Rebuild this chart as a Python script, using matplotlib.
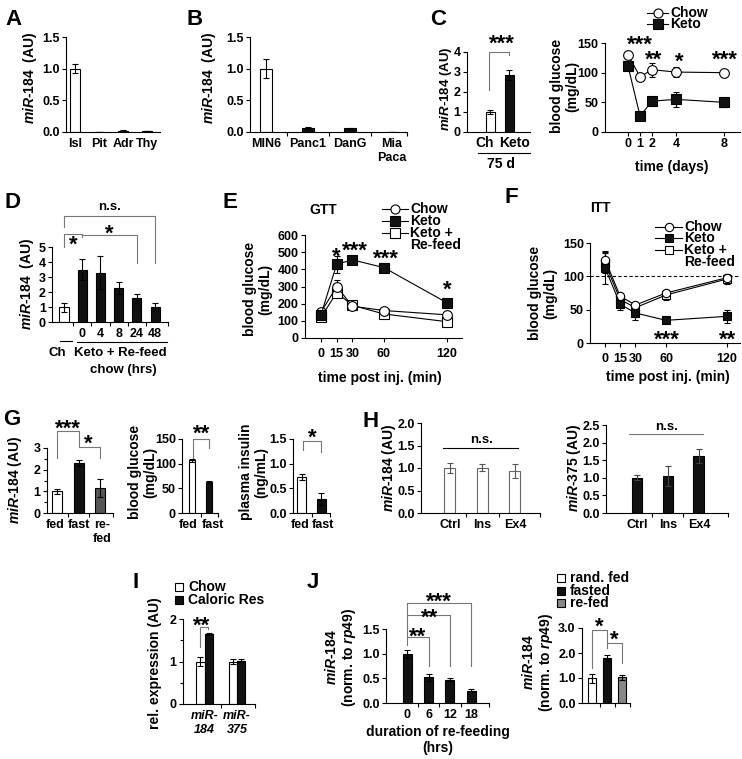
import matplotlib
matplotlib.use("Agg")
import matplotlib.pyplot as plt
from matplotlib.patches import Rectangle

plt.rcParams["font.family"] = "Liberation Sans"
plt.rcParams["font.weight"] = "bold"
plt.rcParams["font.size"] = 9
plt.rcParams["axes.linewidth"] = 0.8
plt.rcParams["mathtext.fontset"] = "custom"
plt.rcParams["mathtext.it"] = "Liberation Sans:italic:bold"
plt.rcParams["mathtext.rm"] = "Liberation Sans:bold"
plt.rcParams["mathtext.bf"] = "Liberation Sans:bold"

W, H = 742, 759

# A: tissues
tissue = ["Isl", "Pit", "Adr", "Thy"]
tissue_mir = [1.0, 0.0, 0.02, 0.015]
tissue_err = [0.07, 0.0, 0.01, 0.005]
# B: cell lines
cells = ["MIN6", "Panc1", "DanG", "Mia\nPaca"]
cells_mir = [1.0, 0.06, 0.06, 0.0]
cells_err = [0.15, 0.02, 0.01, 0.0]
# C: keto diet
diet_mir = [1.0, 2.85]
diet_err = [0.1, 0.25]
days = [0, 1, 2, 4, 8]
chow_bg = [130, 93, 105, 101, 100]
chow_bg_err = [5, 5, 12, 8, 4]
keto_bg = [111, 27, 52, 55, 50]
keto_bg_err = [5, 3, 4, 13, 8]
# D: re-feeding
refeed_hrs = ["", "0", "4", "8", "24", "48"]
refeed_mir = [1.0, 3.5, 3.3, 2.25, 1.6, 1.0]
refeed_err = [0.3, 0.7, 1.1, 0.4, 0.3, 0.25]
# E: GTT
tt_min = [0, 15, 30, 60, 120]
gtt_chow = [150, 300, 185, 160, 135]
gtt_chow_err = [10, 35, 15, 12, 12]
gtt_keto = [135, 430, 455, 410, 205]
gtt_keto_err = [10, 50, 15, 25, 25]
gtt_refeed = [120, 265, 190, 140, 95]
gtt_refeed_err = [10, 25, 10, 8, 8]
# F: ITT
itt_chow = [125, 70, 57, 75, 98]
itt_chow_err = [12, 5, 5, 5, 4]
itt_keto = [113, 58, 45, 34, 40]
itt_keto_err = [25, 8, 10, 2, 10]
itt_refeed = [120, 65, 53, 72, 96]
itt_refeed_err = [15, 5, 5, 8, 8]
# G: fasting
fast_lbl = ["fed", "fast", "re-\nfed"]
fast_mir = [1.0, 2.3, 1.15]
fast_mir_err = [0.1, 0.15, 0.4]
fast_bg = [107, 62]
fast_bg_err = [3, 2]
fast_ins = [0.73, 0.28]
fast_ins_err = [0.07, 0.12]
# H: treatments
treat = ["Ctrl", "Ins", "Ex4"]
treat_184 = [1.0, 1.01, 0.93]
treat_184_err = [0.12, 0.08, 0.15]
treat_375 = [1.0, 1.05, 1.62]
treat_375_err = [0.07, 0.28, 0.2]
# I: caloric restriction
mirs = ["miR-\n184", "miR-\n375"]
cr_chow = [1.0, 1.0]
cr_chow_err = [0.1, 0.05]
cr_res = [1.65, 1.02]
cr_res_err = [0.02, 0.04]
# J: fly re-feeding
fly_hrs = ["0", "6", "12", "18"]
fly_mir = [1.0, 0.52, 0.47, 0.25]
fly_err = [0.08, 0.07, 0.03, 0.03]
fly_state_mir = [1.0, 1.8, 1.03]
fly_state_err = [0.18, 0.13, 0.1]

BLK = "#111111"
GRY = "#777777"

fig = plt.figure(figsize=(W / 100, H / 100), dpi=100)
ov = fig.add_axes([0, 0, 1, 1])
ov.set_xlim(0, W)
ov.set_ylim(H, 0)
ov.axis("off")


def axpx(l, t, r, b, xlim, ylim):
    ax = fig.add_axes([l / W, 1 - b / H, (r - l) / W, (b - t) / H])
    ax.spines[["top", "right"]].set_visible(False)
    ax.patch.set_alpha(0)
    ax.set_xlim(*xlim)
    ax.set_ylim(*ylim)
    ax.tick_params(direction="out", length=3, width=0.8, pad=1.5, labelsize=9)
    return ax


def bars(ax, pos, vals, errs, colors, width, edge="black", ecol="black"):
    ax.bar(pos, vals, width, color=colors, edgecolor=edge, linewidth=0.8, zorder=2)
    ax.errorbar(pos, vals, yerr=errs, fmt="none", ecolor=ecol, elinewidth=0.8,
                capsize=2, capthick=0.8, zorder=3)


def cat_ticks(ax, labels, style="normal", majors=True, shift=None):
    n = len(labels)
    right = ax.get_xlim()[1]
    if majors:
        ax.set_xticks([i + 0.5 for i in range(n - 1)] + [right], labels=[""] * n)
    else:
        ax.set_xticks([])
    pos = [i + (shift[i] if shift else 0) for i in range(n)]
    ax.set_xticks(pos, labels=labels, minor=True, fontstyle=style)
    ax.tick_params(axis="x", which="minor", length=0, pad=4.5, labelsize=9)


def bracket(ax, x0, x1, y, y0, y1, color=GRY):
    ax.plot([x0, x0, x1, x1], [y0, y, y, y1], color=color, lw=0.8, clip_on=False)


def stars(ax, x, y, s, fs=16):
    ax.annotate(s, (x, y), xytext=(0, -5), textcoords="offset points",
                ha="center", va="center", fontsize=fs, annotation_clip=False)


def ns(ax, x, y):
    ax.text(x, y, "n.s.", ha="center", va="center", fontsize=9.5, clip_on=False)


def T(x, y, s, **kw):
    kw.setdefault("ha", "center")
    kw.setdefault("va", "center")
    kw.setdefault("fontsize", 10)
    ov.text(x, y, s, **kw)


def ylab(x, y, s, fs=10):
    T(x, y, s, rotation=90, multialignment="center", fontsize=fs, linespacing=1.1)


def line_key(x0, x1, y, marker, face, label, ms=6.5):
    ov.plot([x0, x1], [y, y], color="black", lw=0.8)
    ov.plot([(x0 + x1) / 2], [y], marker=marker, mfc=face, mec="black", ms=ms, mew=0.8)
    T(x1 + 2, y, label, ha="left", fontsize=10)


def box_key(x, y, face, label):
    ov.add_patch(Rectangle((x - 4, y - 4), 8, 8, fc=face, ec="black", lw=0.8))
    T(x + 9, y, label, ha="left", fontsize=10)


def curve(ax, x, y, e, marker, face, ms=7):
    ax.errorbar(x, y, yerr=e, color="black", marker=marker, mfc=face, mec="black",
                ms=ms, mew=0.8, lw=0.8, elinewidth=0.8, capsize=2, capthick=0.8,
                clip_on=False, zorder=3)


MIR184 = "$\\mathit{miR}$-$\\mathit{184}$"
MIR375 = "$\\mathit{miR}$-$\\mathit{375}$"
LETTER = dict(ha="left", va="top", fontsize=16)

# ---- A
ax = axpx(66, 37, 160, 132, (-0.375, 3.54), (0, 1.5))
bars(ax, range(4), tissue_mir, tissue_err, ["white", BLK, BLK, BLK], 0.42)
ax.set_yticks([0, 0.5, 1.0, 1.5], ["0.0", "0.5", "1.0", "1.5"])
cat_ticks(ax, tissue, majors=False)
ylab(30, 78, MIR184 + "  (AU)")
T(5, 9, "A", **LETTER)

# ---- B
ax = axpx(250, 37, 407, 132, (-0.38, 3.36), (0, 1.5))
bars(ax, range(4), cells_mir, cells_err, ["white", BLK, BLK, BLK], 0.28)
ax.set_yticks([0, 0.5, 1.0, 1.5], ["0.0", "0.5", "1.0", "1.5"])
cat_ticks(ax, cells)
ylab(209, 78, MIR184 + "  (AU)")
T(186, 9, "B", **LETTER)

# ---- C left
ax = axpx(467, 52, 530, 132, (-1.21, 2.1), (0, 4))
bars(ax, range(2), diet_mir, diet_err, ["white", BLK], 0.47)
ax.set_yticks(range(5))
ax.set_xticks([])
bracket(ax, -0.05, 1.0, 4.0, 2.1, 3.85)
stars(ax, 0.6, 4.75, "***")
T(485, 143, "Ch")
T(515, 143, "Keto")
ov.plot([478, 530], [153, 153], color="black", lw=0.8)
T(501, 164, "75 d")
ylab(446, 89, MIR184 + " (AU)", fs=9.5)
T(430, 9, "C", **LETTER)

# ---- C right
ax = axpx(605, 43, 740, 132, (-1.92, 9.33), (0, 150))
curve(ax, days, chow_bg, chow_bg_err, "o", "white")
curve(ax, days, keto_bg, keto_bg_err, "s", BLK)
ax.set_yticks([0, 50, 100, 150])
ax.set_xticks(days)
stars(ax, 1, 158, "***")
stars(ax, 2.1, 133, "**")
stars(ax, 4.3, 130, "*")
stars(ax, 8.1, 133, "***")
T(672, 167, "time (days)")
ylab(565, 86, "blood glucose\n(mg/dL)")
line_key(647, 668, 13, "o", "white", "Chow")
line_key(647, 668, 24, "s", BLK, "Keto")

# ---- D
ax = axpx(52, 247, 168, 322, (-0.66, 5.71), (0, 5))
bars(ax, range(6), refeed_mir, refeed_err, ["white"] + [BLK] * 5, 0.5)
ax.set_yticks(range(6))
cat_ticks(ax, refeed_hrs)
bracket(ax, 0, 5, 7.09, 6.35, 3.93)
bracket(ax, 0, 1, 5.87, 5.0, 5.7)
bracket(ax, 1, 4, 5.8, 5.8, 3.93)
ns(ax, 2.5, 7.7)
stars(ax, 0.5, 5.55, "*")
stars(ax, 2.5, 6.3, "*")
ov.plot([60, 72], [341, 341], color="black", lw=0.8)
ov.plot([77, 167], [342, 342], color="black", lw=0.8)
T(57, 353, "Ch", fontsize=9.5)
T(120, 353, "Keto + Re-feed", fontsize=9.5)
T(123, 370, "chow (hrs)", fontsize=9.5)
ylab(27, 284, MIR184 + "  (AU)")
T(4, 192, "D", **LETTER)

# ---- E
ax = axpx(305, 235, 462, 338, (-15.2, 134.3), (0, 600))
curve(ax, tt_min, gtt_refeed, gtt_refeed_err, "s", "white")
curve(ax, tt_min, gtt_chow, gtt_chow_err, "o", "white")
curve(ax, tt_min, gtt_keto, gtt_keto_err, "s", BLK)
ax.set_yticks(range(0, 601, 100))
ax.set_xticks(tt_min)
ax.tick_params(axis="x", pad=4)
stars(ax, 15, 510, "*")
stars(ax, 32, 545, "***")
stars(ax, 62, 500, "***")
stars(ax, 120, 320, "*")
T(323, 210, "GTT", fontsize=10)
line_key(382, 408, 209, "o", "white", "Chow")
line_key(382, 408, 221, "s", BLK, "Keto")
line_key(382, 408, 233, "s", "white", "Keto +")
T(410, 245, "Re-feed", ha="left", fontsize=10)
T(380, 378, "time post inj. (min)")
ylab(258, 289, "blood glucose\n(mg/dL)")
T(222, 192, "E", **LETTER)

# ---- F
ax = axpx(590, 243, 740, 343, (-14.7, 132.7), (0, 150))
ax.axhline(100, color="black", lw=0.8, ls=(0, (3, 2)), zorder=1)
curve(ax, tt_min, itt_refeed, itt_refeed_err, "s", "white", ms=6)
curve(ax, tt_min, itt_chow, itt_chow_err, "o", "white", ms=6)
curve(ax, tt_min, itt_keto, itt_keto_err, "s", BLK, ms=6)
ax.set_yticks([0, 50, 100, 150])
ax.set_xticks(tt_min)
ax.tick_params(axis="x", pad=4)
stars(ax, 61, 15, "***")
stars(ax, 121, 15, "**")
T(600, 208, "ITT", fontsize=10)
line_key(655, 682, 227, "o", "white", "Chow", ms=6)
line_key(655, 682, 238, "s", BLK, "Keto", ms=6)
line_key(655, 682, 250, "s", "white", "Keto +", ms=6)
T(684, 262, "Re-feed", ha="left", fontsize=10)
T(668, 377, "time post inj. (min)")
ylab(543, 293, "blood glucose\n(mg/dL)")
T(505, 187, "F", **LETTER)

# ---- G left
ax = axpx(47, 448, 113, 513, (-0.47, 2.6), (0, 3))
bars(ax, range(3), fast_mir, fast_mir_err, ["white", BLK, "#555555"], 0.47)
ax.set_yticks(range(4))
ax.set_yticks([0.5, 1.5, 2.5], minor=True)
ax.tick_params(axis="y", which="minor", length=2, width=0.8)
cat_ticks(ax, fast_lbl, shift=[-0.1, 0, 0.1])
bracket(ax, 0, 1, 3.8, 2.55, 3.05)
bracket(ax, 1, 2, 3.05, 3.05, 2.55)
stars(ax, 0.5, 4.2, "***")
stars(ax, 1.45, 3.5, "*")
ylab(15, 480, MIR184 + " (AU)")
T(3, 409, "G", **LETTER)

# ---- G middle
ax = axpx(182, 439, 218, 513, (-0.59, 1.53), (0, 150))
bars(ax, range(2), fast_bg, fast_bg_err, ["white", BLK], 0.35)
ax.set_yticks([0, 50, 100, 150])
cat_ticks(ax, fast_lbl[:2], shift=[-0.2, 0.25])
bracket(ax, 0.05, 1.0, 151, 111, 132)
stars(ax, 0.57, 174, "**")
ylab(143, 472, "blood glucose\n(mg/dL)")

# ---- G right
ax = axpx(293, 439, 330, 513, (-0.47, 1.47), (0, 1.5))
bars(ax, range(2), fast_ins, fast_ins_err, ["white", BLK], 0.47)
ax.set_yticks([0, 0.5, 1.0, 1.5], ["0.0", "0.5", "1.0", "1.5"])
cat_ticks(ax, fast_lbl[:2], shift=[-0.1, 0.1])
bracket(ax, 0.03, 0.98, 1.45, 1.28, 1.24)
stars(ax, 0.54, 1.65, "*")
ylab(254, 472, "plasma insulin\n(ng/mL)")

# ---- H left
ax = axpx(421, 423, 540, 513, (-0.89, 2.77), (0, 2))
bars(ax, range(3), treat_184, treat_184_err, "white", 0.34, edge="#666666", ecol="#555555")
ax.set_yticks([0, 0.5, 1.0, 1.5, 2.0], ["0.0", "0.5", "1.0", "1.5", "2.0"])
cat_ticks(ax, treat)
ax.plot([-0.2, 2.1], [1.44, 1.44], color="black", lw=0.8)
ns(ax, 0.97, 1.62)
ylab(389, 468, MIR184 + " (AU)")
T(363, 411, "H", **LETTER)

# ---- H right
ax = axpx(606, 425, 728, 513, (-1.0, 2.94), (0, 2.5))
bars(ax, range(3), treat_375, treat_375_err, BLK, 0.35, ecol="#444444")
ax.set_yticks([0, 0.5, 1.0, 1.5, 2.0, 2.5], ["0.0", "0.5", "1.0", "1.5", "2.0", "2.5"])
cat_ticks(ax, treat)
ax.plot([-0.26, 2.13], [2.24, 2.24], color=GRY, lw=0.8, clip_on=False)
ns(ax, 0.94, 2.43)
ylab(574, 468, MIR375 + " (AU)")

# ---- I
ax = axpx(183, 619, 255, 704, (-0.66, 1.55), (0, 2))
bars(ax, [-0.125, 0.875], cr_chow, cr_chow_err, "white", 0.25)
bars(ax, [0.125, 1.125], cr_res, cr_res_err, BLK, 0.25)
ax.set_yticks([0, 1, 2])
ax.set_yticks([0.5, 1.5], minor=True)
ax.tick_params(axis="y", which="minor", length=2, width=0.8)
cat_ticks(ax, mirs, style="italic")
bracket(ax, -0.14, 0.11, 1.82, 1.35, 1.76)
stars(ax, -0.09, 2.0, "**")
box_key(179, 587, "white", "Chow")
box_key(179, 600, BLK, "Caloric Res")
ylab(155, 663, "rel. expression (AU)")
T(133, 572, "I", **LETTER)

# ---- J left
ax = axpx(386, 629, 489, 703, (-1.01, 3.84), (0, 1.5))
bars(ax, range(4), fly_mir, fly_err, BLK, 0.42)
ax.set_yticks([0, 0.5, 1.0, 1.5], ["0.0", "0.5", "1.0", "1.5"])
cat_ticks(ax, fly_hrs)
ax.plot([0, 0], [1.18, 2.03], color=GRY, lw=0.8, clip_on=False)
bracket(ax, 0, 1, 1.33, 1.33, 0.75)
bracket(ax, 0, 2, 1.78, 1.78, 0.75)
bracket(ax, 0, 3, 2.03, 2.03, 0.75)
stars(ax, 0.5, 1.48, "**")
stars(ax, 1.06, 1.85, "**")
stars(ax, 1.46, 2.19, "***")
T(438, 732, "duration of re-feeding")
T(438, 748, "(hrs)")
ylab(341, 657, MIR184 + "\n(norm. to $\\mathit{rp49}$)")
T(307, 572, "J", **LETTER)

# ---- J right
ax = axpx(582, 628, 630, 703, (-0.67, 2.53), (0, 3))
bars(ax, range(3), fly_state_mir, fly_state_err, ["white", BLK, "#888888"], 0.57)
ax.set_yticks([0, 1, 2, 3], ["0.0", "1.0", "2.0", "3.0"])
cat_ticks(ax, ["", "", ""])
bracket(ax, 0, 1, 2.92, 1.4, 2.2)
bracket(ax, 1, 2, 2.4, 2.4, 1.6)
stars(ax, 0.47, 3.3, "*")
stars(ax, 1.47, 2.8, "*")
box_key(561, 578, "white", "rand. fed")
box_key(561, 591, BLK, "fasted")
box_key(561, 603, "#888888", "re-fed")
ylab(538, 662, MIR184 + "\n(norm. to $\\mathit{rp49}$)")

fig.savefig("out.png", dpi=100)
